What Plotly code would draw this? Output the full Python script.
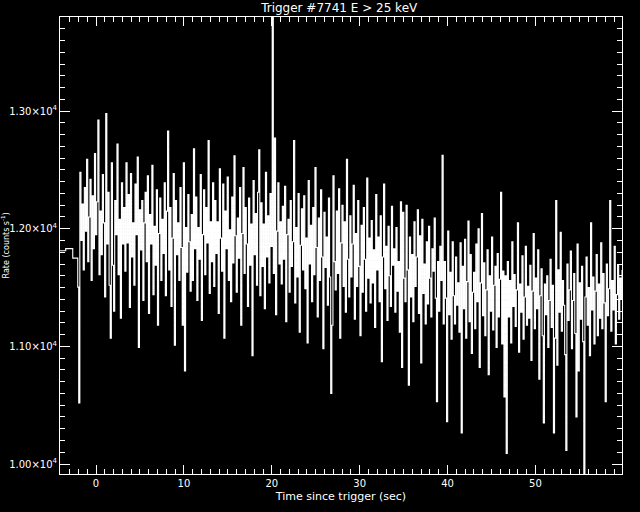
import numpy as np
import plotly.graph_objects as go

# Pre-trigger (coarse) bins: start times and rates
pre_start = [-4.10, -3.45, -2.65, -2.08]
pre_rate = [11813, 11831, 11750, 11504]

# Fine-resolution bins after -1.97 s (0.128 s bins)
fine_t0 = -1.97
fine_dt = 0.128
fine_rate = [
    10520, 12480, 11900, 12210, 11650, 12350, 11980, 12590, 11720, 12100, 12420, 11560, 12280, 11830, 12640, 11950, 12230, 12925, 11610, 12150,
    11780, 12460, 12050, 11420, 12980, 11870, 12310, 11520, 11070, 12560, 11690, 11300, 12240, 11950, 12720, 11610, 12080, 11240, 12390, 11870,
    12180, 11640, 12560, 11880, 12290, 11330, 12470, 11760, 12050, 11520, 12380, 11950, 12610, 10990, 12160, 11820, 12240, 11390, 12050, 12310,
    11720, 12450, 11280, 12120, 11870, 12540, 11440, 12020, 11690, 12330, 11180, 11960, 12260, 11560, 12080, 11790, 12390, 11430, 12150, 12830,
    11650, 12180, 11340, 11920, 12470, 11010, 12240, 11780, 12050, 11560, 12350, 11840, 11180, 12560, 10790, 12010, 11630, 12290, 11890, 11470,
    12120, 11560, 12680, 11830, 12270, 11390, 12010, 11740, 12460, 11220, 11950, 12330, 11610, 12180, 11880, 12750, 11450, 12060, 11720, 12390,
    11510, 12240, 11790, 12060, 11280, 12510, 11920, 11640, 12380, 11070, 12150, 11830, 12440, 11560, 11990, 11380, 12270, 11710, 12620, 11940,
    11460, 12090, 11750, 12350, 11180, 11960, 12520, 11620, 12180, 11870, 11340, 12260, 11690, 12040, 10920, 12410, 11780, 12130, 11520, 12310,
    12670, 11430, 12220, 11680, 12040, 11320, 12480, 11760, 12110, 11540, 12300, 11850, 14500, 11620, 12770, 11270, 11980, 12390, 11700, 12060,
    11530, 12190, 11740, 12360, 11210, 11950, 12080, 11460, 12240, 11680, 11890, 12750, 11370, 12010, 11590, 12300, 11120, 11860, 12170, 11650,
    12280, 11490, 11920, 11030, 12410, 11700, 12030, 11380, 12180, 11610, 12520, 11840, 11250, 12090, 11560, 12330, 11760, 10980, 12140, 11670,
    11930, 11350, 12260, 11590, 10600, 11180, 12450, 11720, 11480, 12150, 11620, 12340, 11070, 11880, 12200, 11510, 12060, 11290, 12590, 11740,
    11420, 12110, 11590, 11870, 12370, 11230, 11960, 11510, 12240, 11680, 11090, 12030, 11460, 12180, 11740, 11300, 12430, 11580, 11920, 11370,
    12070, 11540, 11820, 11160, 12290, 11650, 11930, 11380, 12110, 10870, 11760, 12380, 11490, 11850, 11220, 12020, 11600, 11340, 12190, 11690,
    11830, 11290, 12010, 11470, 11720, 11120, 12230, 10820, 12140, 11580, 11380, 12200, 11650, 10670, 11930, 11420, 11780, 11210, 12060, 11510,
    11760, 12160, 11280, 11940, 10860, 12080, 11450, 11700, 11190, 11890, 11360, 12020, 11580, 11250, 11830, 11640, 12090, 11410, 10530, 11720,
    11300, 11850, 11560, 12625, 11190, 11720, 11410, 10360, 11980, 11270, 11630, 11060, 11890, 11430, 11190, 11760, 11350, 11540, 11120, 11880,
    10265, 11680, 11320, 11910, 11070, 11550, 12065, 11210, 11780, 10940, 11460, 11630, 11150, 11870, 11380, 12000, 10820, 11540, 12130, 11260,
    11710, 11090, 11480, 11820, 10760, 11600, 11300, 11930, 11140, 11520, 11680, 10990, 11790, 11250, 11570, 12310, 11020, 11640, 10570, 11600,
    10090, 11720, 11250, 11560, 11030, 11890, 11340, 11610, 11170, 11480, 12050, 10950, 11530, 11290, 11770, 11060, 11420, 11850, 11180, 11510,
    11240, 11690, 10880, 11470, 11960, 11150, 11580, 11320, 11820, 10720, 11430, 11660, 11090, 10350, 11530, 11270, 11600, 10990, 11390, 11740,
    11160, 11520, 10265, 11070, 12240, 10840, 11650, 11290, 11970, 11130, 11560, 11350, 10930, 10115, 11700, 11220, 11480, 11810, 10980, 11390,
    11620, 11110, 10400, 11870, 10790, 11540, 11230, 11680, 11040, 9700, 11420, 11760, 11180, 11500, 10920, 12050, 11310, 11590, 11020, 11470,
    11780, 11090, 11530, 11240, 11880, 11150, 11620, 11370, 10530, 11700, 11260, 11490, 12240, 11130, 11560, 11310, 11850, 11020, 11440, 11690,
    11230, 11580, 11400, 11650,
]

y_tickvals = [10000, 11000, 12000, 13000]
y_ticktext = ["1.00×10<sup>4</sup>", "1.10×10<sup>4</sup>", "1.20×10<sup>4</sup>", "1.30×10<sup>4</sup>"]
x_tickvals = [0, 10, 20, 30, 40, 50]

fine_start = fine_t0 + fine_dt * np.arange(len(fine_rate))
x_all = list(pre_start) + list(fine_start)
y_all = list(pre_rate) + list(fine_rate)

FONT = "DejaVu Sans"
fig = go.Figure()
fig.add_trace(go.Scatter(x=x_all, y=y_all, mode="lines", line=dict(color="white", width=1.1, shape="hv"),
                         hoverinfo="skip", showlegend=False))

axis_common = dict(showline=True, linecolor="white", linewidth=1, mirror="allticks", ticks="inside",
                   tickcolor="white", tickwidth=1, showgrid=False, zeroline=False, automargin=False,
                   tickfont=dict(family=FONT, size=10, color="white"))

fig.update_xaxes(range=[-4.1, 59.85], tickvals=x_tickvals, ticklen=9,
                 minor=dict(dtick=1, ticks="inside", ticklen=5, tickcolor="white", showgrid=False),
                 title=dict(text="Time since trigger (sec)", font=dict(family=FONT, size=11, color="white"), standoff=4),
                 **axis_common)
fig.update_yaxes(range=[9915, 13800], tickvals=y_tickvals, ticktext=y_ticktext, ticklen=10,
                 minor=dict(dtick=100, ticks="inside", ticklen=5, tickcolor="white", showgrid=False),
                 **axis_common)

fig.add_annotation(text="Rate (counts s<sup>-1</sup>)", textangle=-90, xref="paper", yref="paper",
                   x=-0.098, y=0.50, xanchor="center", yanchor="middle", showarrow=False,
                   font=dict(family=FONT, size=8, color="white"))

fig.update_layout(
    width=640, height=512, paper_bgcolor="black", plot_bgcolor="black",
    margin=dict(l=60, r=18, t=17, b=38),
    title=dict(text="Trigger #7741 E > 25 keV", x=0.53, xanchor="center", y=0.992, yanchor="top",
               font=dict(family=FONT, size=12, color="white")),
)

fig.write_html("out.html", config={"displayModeBar": False},
               post_script="document.body.style.margin='0';document.body.style.background='black';")
